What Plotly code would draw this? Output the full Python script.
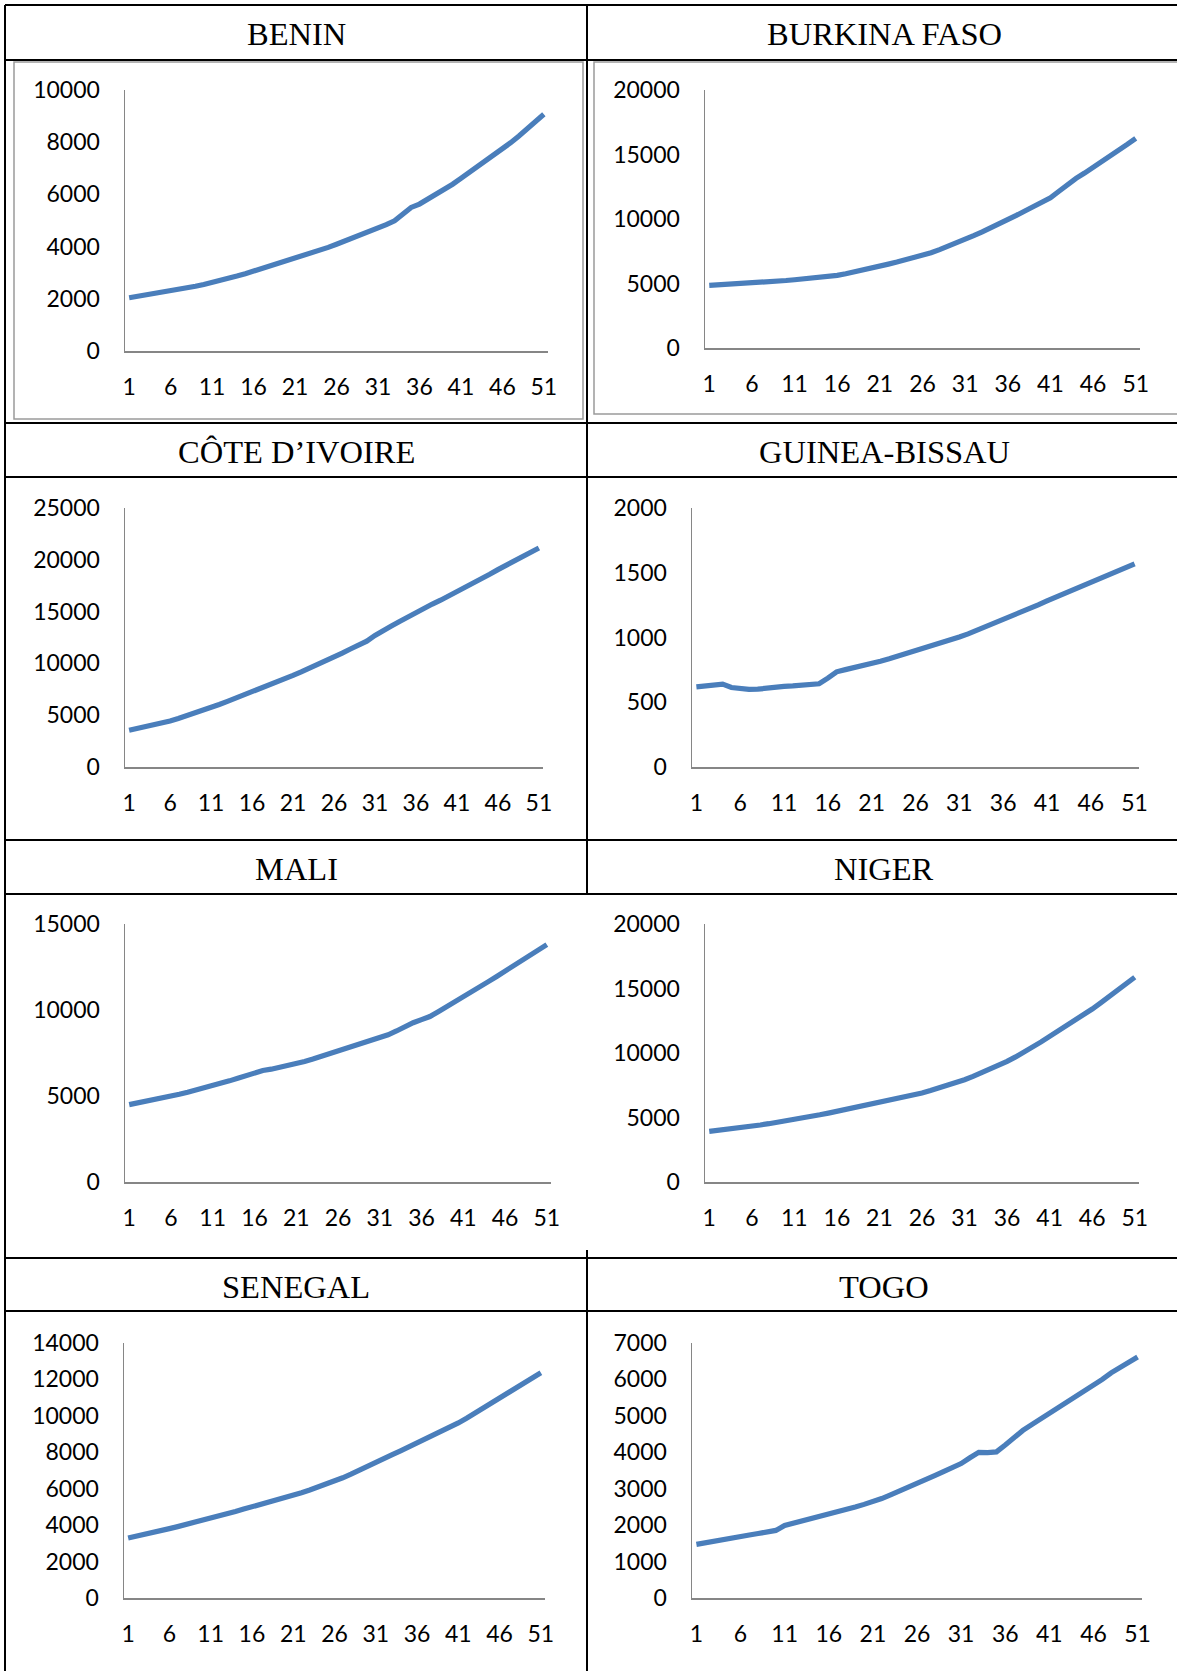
import plotly.graph_objects as go

# ---------------- data ----------------
periods = list(range(1, 52))
tick_labels = ["1", "6", "11", "16", "21", "26", "31", "36", "41", "46", "51"]
tick_positions = [1, 6, 11, 16, 21, 26, 31, 36, 41, 46, 51]

countries = ["BENIN", "BURKINA FASO", "CÔTE D’IVOIRE", "GUINEA-BISSAU",
             "MALI", "NIGER", "SENEGAL", "TOGO"]

benin = [2040, 2090, 2140, 2190, 2240, 2300, 2360, 2420, 2480, 2550,
         2620, 2700, 2780, 2870, 2960, 3060, 3150, 3240, 3330, 3430,
         3530, 3630, 3740, 3850, 3970, 4090, 4210, 4330, 4450, 4570,
         4700, 4840, 4990, 5250, 5500, 5630, 5810, 5990, 6180, 6390,
         6610, 6830, 7050, 7270, 7500, 7730, 7980, 8240, 8510, 8790, 9070]

burkina_faso = [4860, 4890, 4920, 4950, 4980, 5020, 5070, 5120, 5170, 5230,
                5290, 5350, 5410, 5480, 5550, 5630, 5760, 5890, 6030, 6180,
                6340, 6500, 6660, 6820, 6980, 7150, 7380, 7620, 7870, 8140,
                8420, 8710, 9000, 9300, 9620, 9950, 10280, 10620, 10960, 11300,
                11650, 12150, 12700, 13150, 13560, 13980, 14420, 14860, 15310, 15780, 16250]

cote_divoire = [3540, 3700, 3870, 4040, 4230, 4440, 4680, 4930, 5180, 5450,
                5730, 6030, 6330, 6630, 6930, 7240, 7560, 7880, 8200, 8520,
                8850, 9190, 9530, 9890, 10250, 10620, 11000, 11390, 11780, 12150,
                12700, 13200, 13600, 14050, 14500, 14950, 15350, 15730, 16100, 16500,
                16900, 17330, 17730, 18140, 18600, 19050, 19450, 19870, 20290, 20710, 21140]

guinea_bissau = [619, 627, 635, 640, 614, 604, 599, 601, 610, 617,
                 622, 626, 629, 634, 643, 686, 735, 752, 766, 781,
                 798, 817, 836, 856, 877, 898, 918, 939, 960, 982,
                 1004, 1028, 1055, 1085, 1115, 1141, 1166, 1194, 1222, 1252,
                 1282, 1310, 1338, 1366, 1395, 1424, 1453, 1482, 1510, 1540, 1569]

mali = [4500, 4590, 4680, 4780, 4880, 4980, 5100, 5220, 5340, 5470,
        5600, 5740, 5880, 6030, 6180, 6340, 6480, 6560, 6660, 6770,
        6880, 7010, 7150, 7300, 7450, 7600, 7750, 7900, 8050, 8210,
        8370, 8560, 8780, 9030, 9260, 9440, 9620, 9900, 10180, 10450,
        10730, 11040, 11350, 11650, 11950, 12250, 12550, 12860, 13170, 13480, 13800]

niger = [3930, 4000, 4080, 4160, 4240, 4320, 4420, 4520, 4620, 4720,
         4830, 4950, 5080, 5210, 5340, 5480, 5600, 5720, 5850, 5980,
         6120, 6270, 6420, 6570, 6730, 6900, 7090, 7280, 7480, 7700,
         7930, 8190, 8460, 8740, 9040, 9350, 9700, 10060, 10450, 10860,
         11290, 11700, 12120, 12540, 12970, 13410, 13890, 14380, 14870, 15370, 15870]

senegal = [3290, 3380, 3480, 3580, 3690, 3810, 3920, 4030, 4140, 4250,
           4370, 4500, 4630, 4750, 4880, 5000, 5120, 5240, 5370, 5500,
           5640, 5780, 5930, 6080, 6250, 6420, 6600, 6800, 7000, 7220,
           7450, 7660, 7870, 8080, 8290, 8510, 8720, 8940, 9160, 9380,
           9610, 9870, 10140, 10420, 10720, 11030, 11290, 11550, 11810, 12090, 12370]

togo = [1473, 1510, 1550, 1590, 1640, 1690, 1730, 1770, 1810, 1855,
        1990, 2050, 2110, 2170, 2230, 2290, 2360, 2430, 2500, 2570,
        2640, 2730, 2830, 2930, 3030, 3140, 3250, 3360, 3470, 3580,
        3690, 3850, 4000, 3990, 4010, 4200, 4420, 4600, 4760, 4910,
        5060, 5210, 5370, 5520, 5680, 5840, 6000, 6180, 6330, 6480, 6615]

series = [benin, burkina_faso, cote_divoire, guinea_bissau, mali, niger, senegal, togo]
y_max = [10000, 20000, 25000, 2000, 15000, 20000, 14000, 7000]
y_step = [2000, 5000, 5000, 500, 5000, 5000, 2000, 1000]

# ---------------- layout geometry (pixels) ----------------
W, H = 1177, 1671
# plot areas: (left, right, top, bottom)
areas = [
    (125, 548, 90, 351),
    (705, 1140, 90, 348),
    (125, 543, 508, 767),
    (692, 1139, 508, 767),
    (125, 551, 924, 1182),
    (705, 1139, 924, 1182),
    (124, 545, 1343, 1598),
    (692, 1142, 1343, 1598),
]
header_y = [34, 452, 869, 1287]
col_center = [296, 884]

def fx(px):
    return px / W

def fy(py):
    return 1 - py / H

LINE_COLOR = "#4A7EBB"
AXIS_COLOR = "#868686"
TICK_FONT = dict(family="Lato, Carlito, Calibri, sans-serif", size=23, color="#000000")

fig = go.Figure()
layout = dict(
    template="none",
    width=W, height=H, autosize=False,
    margin=dict(l=0, r=0, t=0, b=0, pad=0, autoexpand=False),
    paper_bgcolor="white", plot_bgcolor="white",
    showlegend=False,
)

for i, (name, vals) in enumerate(zip(countries, series)):
    k = "" if i == 0 else str(i + 1)
    l, r, t, b = areas[i]
    fig.add_trace(go.Scatter(
        x=periods, y=vals, mode="lines",
        line=dict(color=LINE_COLOR, width=5.2, shape="linear"),
        xaxis="x" + k, yaxis="y" + k, hoverinfo="skip",
    ))
    layout["xaxis" + k] = dict(
        domain=[fx(l), fx(r)], anchor="y" + k, automargin=False,
        range=[0.5, 51.5], tickmode="array",
        tickvals=tick_positions, ticktext=tick_labels,
        showgrid=False, zeroline=False, showline=True,
        linecolor=AXIS_COLOR, linewidth=1.5, ticks="",
        tickfont=TICK_FONT, ticklabelstandoff=15, fixedrange=True,
    )
    layout["yaxis" + k] = dict(
        domain=[fy(b), fy(t)], anchor="x" + k, automargin=False,
        range=[0, y_max[i]], tickmode="linear", tick0=0, dtick=y_step[i],
        tickformat="d",
        showgrid=False, zeroline=False, showline=True,
        linecolor=AXIS_COLOR, linewidth=1.5, ticks="",
        tickfont=TICK_FONT, ticklabelstandoff=19, fixedrange=True,
    )

fig.update_layout(**layout)

# ---------------- table lines ----------------
shapes = []
BLACK = "#000000"

def hline(y, x0=5, x1=1181, w=2):
    shapes.append(dict(type="line", xref="paper", yref="paper",
                       x0=fx(x0), x1=fx(x1), y0=fy(y), y1=fy(y),
                       line=dict(color=BLACK, width=w)))

def vline(x, y0, y1, w=2, color=BLACK):
    shapes.append(dict(type="line", xref="paper", yref="paper",
                       x0=fx(x), x1=fx(x), y0=fy(y0), y1=fy(y1),
                       line=dict(color=color, width=w)))

for y in [5, 60, 423, 477, 840, 894, 1258, 1311]:
    hline(y)
vline(5, 5, 1671)
vline(587, 5, 894)
vline(587, 1250, 1671)

# chart frames of the first row
for (x0, x1, y0, y1) in [(14, 583, 62, 419), (594, 1200, 62, 414)]:
    shapes.append(dict(type="rect", xref="paper", yref="paper",
                       x0=fx(x0), x1=fx(x1), y0=fy(y1), y1=fy(y0),
                       line=dict(color="#9a9a9a", width=1.5)))

annotations = []
for i, name in enumerate(countries):
    annotations.append(dict(
        text=name, xref="paper", yref="paper",
        x=fx(col_center[i % 2]), y=fy(header_y[i // 2]),
        xanchor="center", yanchor="middle", showarrow=False,
        font=dict(family="Liberation Serif, Times New Roman, serif", size=32.5, color="#000000"),
    ))

fig.update_layout(shapes=shapes, annotations=annotations)

fig.write_html("out.html", config={"displayModeBar": False, "staticPlot": True},
               post_script="document.body.style.margin='0px';document.body.style.overflow='hidden';")
